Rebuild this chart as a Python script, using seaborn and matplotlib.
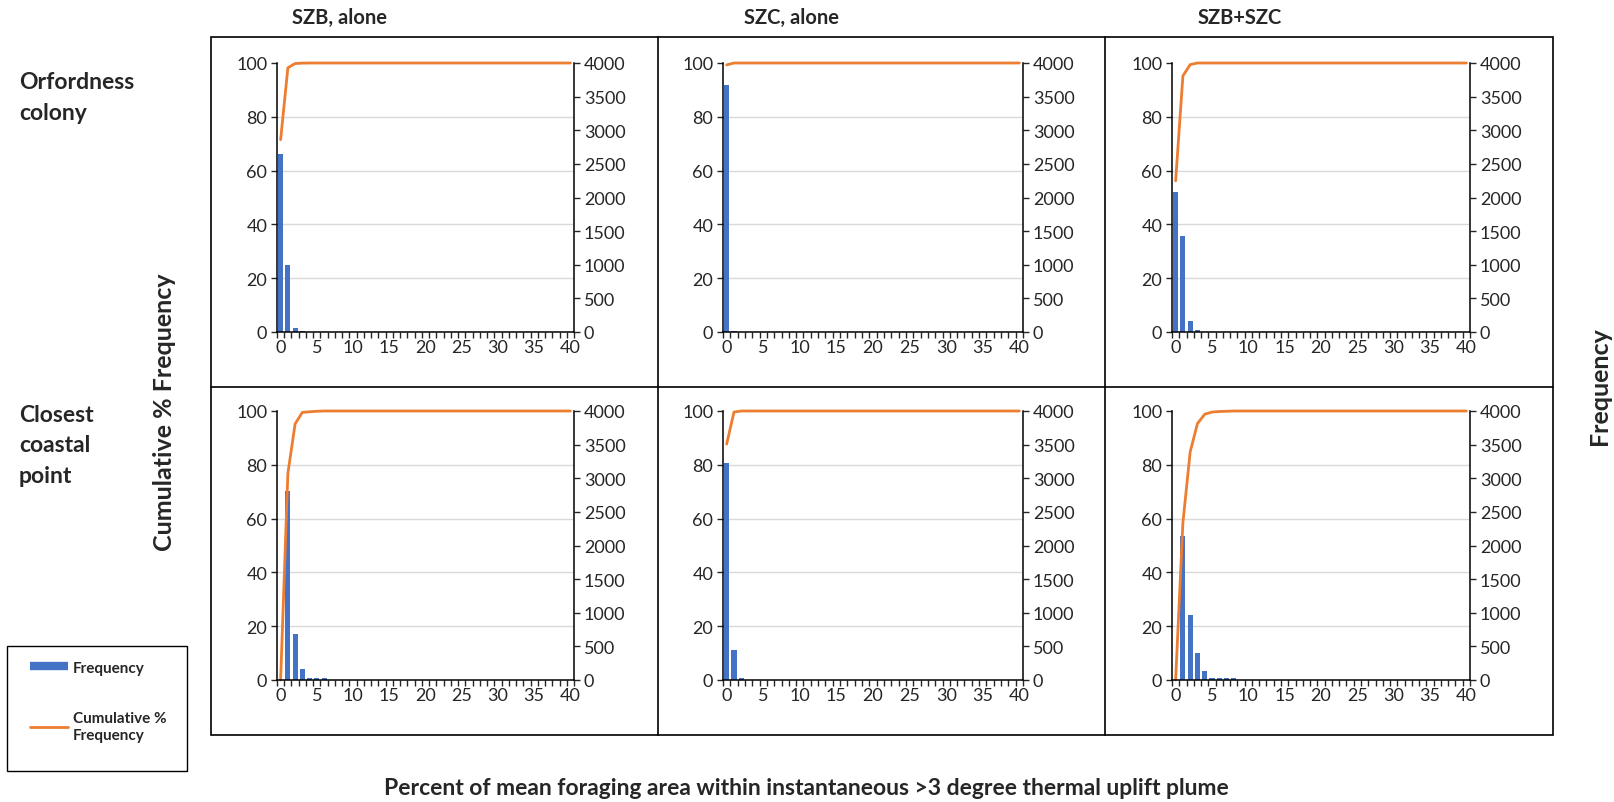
import numpy as np
import matplotlib
matplotlib.use('Agg')
import matplotlib.pyplot as plt
import seaborn as sns
from matplotlib.lines import Line2D
from matplotlib.patches import Rectangle
from matplotlib.ticker import FixedLocator

sns.set_theme(style='ticks')
plt.rcParams['font.family'] = ['Lato', 'DejaVu Sans']

# bins of the histogram (percent of foraging area)
cats = list(range(41))

# frequencies per bin (right axis) and cumulative % (left axis)
# only the leading bins are listed; the rest are empty / already at 100 %
freq_orf_szb = [2640, 990, 60, 8, 2]
cum_orf_szb = [71.5, 98.2, 99.8, 99.95, 100]
freq_orf_szc = [3680, 20]
cum_orf_szc = [99.3, 100]
freq_orf_both = [2075, 1430, 163, 35]
cum_orf_both = [56.2, 95.2, 99.4, 100]
freq_cst_szb = [0, 2815, 677, 163, 30, 30, 28]
cum_cst_szb = [0, 76.8, 95.2, 99.5, 99.7, 99.9, 100]
freq_cst_szc = [3225, 444, 35]
cum_cst_szc = [87.7, 99.6, 100]
freq_cst_both = [0, 2148, 963, 395, 138, 35, 35, 35, 30]
cum_cst_both = [0, 58.5, 84.8, 95.3, 98.8, 99.6, 99.8, 99.9, 100]

col_titles = ['SZB, alone', 'SZC, alone', 'SZB+SZC']
row_titles = ['Orfordness\ncolony', 'Closest\ncoastal\npoint']

panels = [
    [(freq_orf_szb, cum_orf_szb), (freq_orf_szc, cum_orf_szc), (freq_orf_both, cum_orf_both)],
    [(freq_cst_szb, cum_cst_szb), (freq_cst_szc, cum_cst_szc), (freq_cst_both, cum_cst_both)],
]

BLUE = '#4472C4'
ORANGE = '#ED7D31'
GRID = '#D9D9D9'
TXT = '#262626'


def pad(vals, fill):
    return list(vals) + [fill] * (len(cats) - len(vals))


W, H = 1615, 803
fig = plt.figure(figsize=(W / 100, H / 100), dpi=100)


def fx(px):
    return px / W


def fy(py):
    return 1 - py / H


# plot areas in pixels
col_px = [(277, 574), (723, 1023), (1172, 1470)]
row_px = [(64, 333), (412, 681)]

for r, (top, bot) in enumerate(row_px):
    for c, (left, right) in enumerate(col_px):
        freq, cum = panels[r][c]
        ax = fig.add_axes([fx(left), fy(bot), (right - left) / W, (bot - top) / H])
        ax2 = ax.twinx()

        sns.barplot(x=cats, y=pad(freq, 0), ax=ax2, native_scale=True, width=0.7,
                    color=BLUE, saturation=1, errorbar=None, linewidth=0)
        sns.lineplot(x=cats, y=pad(cum, 100), ax=ax, color=ORANGE, lw=2.0,
                     clip_on=False, solid_joinstyle='round')

        # line on top of the bars
        ax.set_zorder(ax2.get_zorder() + 1)
        ax.patch.set_visible(False)

        ax.set_xlim(-0.5, 40.5)
        ax.set_ylim(0, 100)
        ax2.set_ylim(0, 4000)
        ax.set_yticks(range(0, 101, 20))
        ax2.set_yticks(range(0, 4001, 500))
        ax.set_xticks(range(0, 41, 5))
        ax.set_xticks(np.arange(-0.5, 41, 1), minor=True)
        ax.set_xticklabels([str(v) for v in range(0, 41, 5)])

        ax2.yaxis.set_minor_locator(FixedLocator(np.arange(800, 4001, 800)))
        ax2.grid(which='minor', axis='y', color=GRID, lw=1)
        ax2.set_axisbelow(True)

        for s in ['top', 'right']:
            ax.spines[s].set_visible(False)
        for s in ['top', 'left', 'bottom']:
            ax2.spines[s].set_visible(False)
        for s in ['left', 'bottom']:
            ax.spines[s].set_color('black')
            ax.spines[s].set_linewidth(1.1)
        ax2.spines['right'].set_color('black')
        ax2.spines['right'].set_linewidth(1.1)

        ax.tick_params(axis='y', which='major', left=True, length=4, width=1,
                       direction='out', labelsize=13, labelcolor=TXT, pad=3)
        ax2.tick_params(axis='y', which='major', right=True, length=4, width=1,
                        direction='out', labelsize=13, labelcolor=TXT, pad=3)
        ax2.tick_params(axis='y', which='minor', length=0)
        ax.tick_params(axis='x', which='major', length=0, labelsize=13,
                       labelcolor=TXT, pad=5)
        ax.tick_params(axis='x', which='minor', bottom=True, length=4, width=1,
                       direction='out')
        ax.set_xlabel('')
        ax.set_ylabel('')
        ax2.set_xlabel('')
        ax2.set_ylabel('')

# table lines around the panels
box_l, box_r, box_t, box_b = 211, 1553, 38, 736
fig.add_artist(Rectangle((fx(box_l), fy(box_b)), (box_r - box_l) / W, (box_b - box_t) / H,
                         transform=fig.transFigure, fill=False, ec='black', lw=1.2))
for xv in [658, 1105]:
    fig.add_artist(Line2D([fx(xv), fx(xv)], [fy(box_t), fy(box_b)],
                          transform=fig.transFigure, color='black', lw=1.2))
fig.add_artist(Line2D([fx(box_l), fx(box_r)], [fy(388), fy(388)],
                      transform=fig.transFigure, color='black', lw=1.2))

# column and row titles
for title, xc in zip(col_titles, [340, 792, 1240]):
    fig.text(fx(xc), fy(18), title, ha='center', va='center', fontsize=14.5,
             fontweight='bold', color=TXT)
for title, yc in zip(row_titles, [98, 446]):
    fig.text(fx(19), fy(yc), title, ha='left', va='center', fontsize=16.5,
             fontweight='bold', color=TXT, linespacing=1.55)

fig.text(fx(165), fy(412), 'Cumulative % Frequency', rotation=90, ha='center',
         va='center', fontsize=18, fontweight='bold', color=TXT)
fig.text(fx(1600), fy(386), 'Frequency', rotation=90, ha='center', va='center',
         fontsize=18, fontweight='bold', color=TXT)
fig.text(fx(806), fy(789), 'Percent of mean foraging area within instantaneous >3 degree thermal uplift plume',
         ha='center', va='center', fontsize=16.5, fontweight='bold', color=TXT)

# legend box
fig.add_artist(Rectangle((fx(7), fy(772)), 180 / W, 125 / H, transform=fig.transFigure,
                         fill=False, ec='black', lw=1.0))
handles = [Line2D([], [], color=BLUE, lw=6, solid_capstyle='butt'),
           Line2D([], [], color=ORANGE, lw=2)]
fig.legend(handles, ['Frequency', 'Cumulative %\nFrequency'], loc='upper left',
           bbox_to_anchor=(fx(16), fy(648)), frameon=False,
           handlelength=2.5, handletextpad=0.3, labelspacing=2.4,
           prop={'weight': 'bold', 'size': 11})

fig.savefig('out.png', dpi=100)
